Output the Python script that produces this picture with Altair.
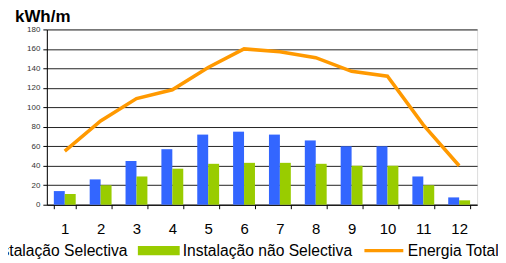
import altair as alt
import pandas as pd

months = list(range(1, 13))
series_names = ["Instalação Selectiva", "Instalação não Selectiva", "Energia Total"]
selectiva = [14, 26, 45, 57, 72, 75, 72, 66, 60, 60, 29, 7.5]
nao_selectiva = [11, 20, 29, 37, 42, 43, 43, 42, 40, 40, 20, 4.5]
energia_total = [55, 86, 109, 118, 141, 160, 157, 151, 137, 132, 82, 40]
colors = ["#3366FF", "#99CC00", "#FF9900"]
y_ticks = list(range(0, 181, 20))

bar_df = pd.DataFrame(
    [{"month": m, "series": series_names[0], "value": v} for m, v in zip(months, selectiva)]
    + [{"month": m, "series": series_names[1], "value": v} for m, v in zip(months, nao_selectiva)]
)
line_df = pd.DataFrame({"month": months, "series": series_names[2], "value": energia_total})

FONT = "Liberation Sans"

color_enc = alt.Color(
    "series:N",
    scale=alt.Scale(domain=series_names, range=colors),
    legend=alt.Legend(
        orient="none",
        legendX=-103.6,
        legendY=201,
        direction="horizontal",
        columns=3,
        title=None,
        labelFont=FONT,
        labelFontSize=15.7,
        labelColor="black",
        labelOffset=3,
        columnPadding=10,
        symbolSize=1764,
        symbolStrokeWidth=0,
        symbolOpacity=1,
        labelLimit=400,
        symbolType=alt.ExprRef(
            "datum.value === 'Energia Total' ? 'M-0.93,-0.08H0.93V0.08H-0.93Z' : 'M-1,-0.22H1V0.22H-1Z'"
        ),
        symbolFillColor=alt.ExprRef("scale('color', datum.value)"),
    ),
)

x_enc = alt.X(
    "month:O",
    scale=alt.Scale(paddingInner=0.39, paddingOuter=0.195),
    axis=alt.Axis(
        title=None,
        labelAngle=0,
        tickBand="extent",
        domainColor="black",
        tickColor="black",
        tickSize=4,
        labelFont=FONT,
        labelFontSize=15,
        labelColor="black",
        labelPadding=12.5,
        grid=False,
    ),
)

y_enc = alt.Y(
    "value:Q",
    scale=alt.Scale(domain=[0, 180], nice=False),
    axis=alt.Axis(
        title=None,
        values=y_ticks,
        grid=True,
        gridColor="#222222",
        gridWidth=1,
        domainColor="black",
        tickColor="black",
        tickSize=4,
        labelFont=FONT,
        labelFontSize=8,
        labelColor="#333333",
        labelPadding=3,
    ),
)

bars = alt.Chart(bar_df).mark_bar().encode(
    x=x_enc,
    xOffset=alt.XOffset("series:N", scale=alt.Scale(domain=series_names[:2], paddingInner=0, paddingOuter=0)),
    y=y_enc,
    color=color_enc,
)

line = alt.Chart(line_df).mark_line(strokeWidth=3.5).encode(
    x=x_enc,
    y=y_enc,
    color=color_enc,
)

chart = (
    alt.layer(bars, line)
    .properties(
        width=432,
        height=176,
        autosize=alt.AutoSizeParams(type="none"),
        padding={"left": 39, "top": 21, "right": 21, "bottom": 54},
        title=alt.TitleParams(
            "kWh/m",
            anchor="start",
            frame="group",
            font=FONT,
            fontSize=17,
            fontWeight="bold",
            color="black",
            dx=-32,
            dy=1,
            offset=0,
        ),
    )
    .configure_view(stroke=None)
    .configure(font=FONT)
)

chart.save("out.html", embed_options={"renderer": "svg", "actions": False})
